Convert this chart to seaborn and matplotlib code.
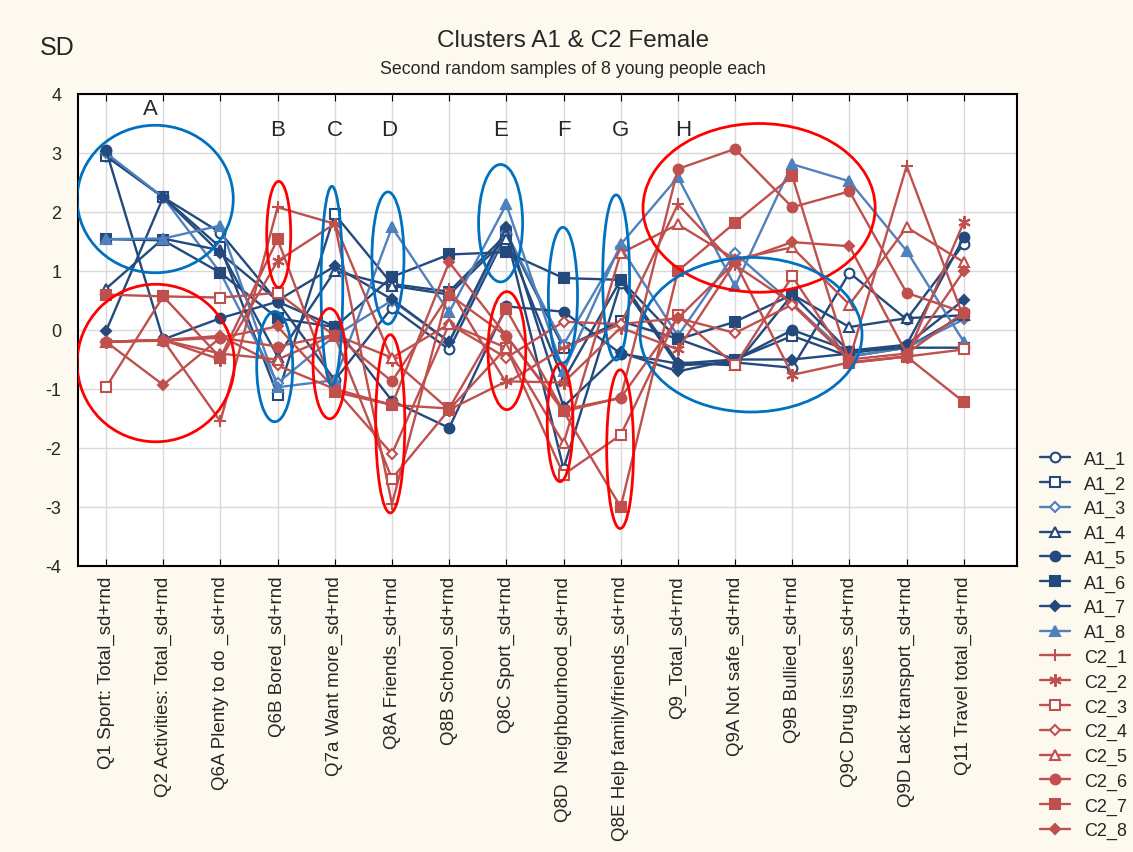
import numpy as np
import pandas as pd
import matplotlib
matplotlib.use("Agg")
from matplotlib import pyplot as plt
from matplotlib.patches import Ellipse
import seaborn as sns

# Categories on the x axis
categories = [
    "Q1 Sport: Total_sd+rnd", "Q2 Activities: Total_sd+rnd", "Q6A Plenty to do _sd+rnd",
    "Q6B Bored_sd+rnd", "Q7a Want more_sd+rnd", "Q8A Friends_sd+rnd", "Q8B School_sd+rnd",
    "Q8C Sport_sd+rnd", "Q8D  Neighbourhood_sd+rnd", "Q8E Help family/friends_sd+rnd",
    "Q9_Total_sd+rnd", "Q9A Not safe_sd+rnd", "Q9B Bullied_sd+rnd", "Q9C Drug issues_sd+rnd",
    "Q9D Lack transport_sd+rnd", "Q11 Travel total_sd+rnd",
]

# Cluster A1 (blue)
A1_1 = [2.95, 2.25, 1.65, 0.48, -0.85, 0.38, -0.33, 1.62, -2.35, 0.80, -0.60, -0.55, -0.64, 0.97, 0.18, 1.46]
A1_2 = [2.95, 2.25, 1.40, -1.10, 1.96, 0.78, 0.65, 1.62, -0.30, 0.15, -0.15, -0.50, -0.10, -0.45, -0.30, 0.25]
A1_3 = [3.00, 2.25, 0.97, -0.90, -0.10, 0.50, -0.20, 1.65, -0.25, 1.40, -0.10, 1.30, 0.45, -0.45, -0.30, 0.18]
A1_4 = [0.70, 1.55, 1.35, -0.45, 1.00, 0.75, 0.60, 1.55, -0.85, 0.85, -0.55, -0.60, 0.60, 0.05, 0.20, 0.25]
A1_5 = [3.05, -0.16, 0.20, 0.48, 0.06, -1.20, -1.66, 0.40, 0.31, -0.40, -0.57, -0.50, 0.00, -0.35, -0.25, 1.57]
A1_6 = [1.54, 1.52, 0.97, 0.20, 0.05, 0.90, 1.28, 1.32, 0.88, 0.85, -0.16, 0.14, 0.60, -0.37, -0.30, -0.30]
A1_7 = [-0.02, 2.25, 1.30, 0.50, 1.08, 0.52, -0.20, 1.74, -1.30, -0.38, -0.70, -0.50, -0.50, -0.40, -0.25, 0.51]
A1_8 = [1.54, 1.55, 1.77, -0.97, -0.85, 1.74, 0.30, 2.13, -0.70, 1.45, 2.59, 0.74, 2.81, 2.52, 1.34, -0.20]

# Cluster C2 (red)
C2_1 = [-0.20, -0.17, -1.55, 2.08, 1.80, -2.95, 0.70, -0.90, -0.30, 0.10, 2.13, 1.10, 0.45, -0.50, 2.78, 0.20]
C2_2 = [-0.20, -0.17, -0.50, 1.17, 1.80, -0.50, -1.35, -0.87, -0.89, 0.04, -0.33, 1.15, -0.76, -0.55, -0.45, 1.83]
C2_3 = [-0.97, 0.57, 0.55, 0.63, -0.10, -2.52, -1.35, -0.30, -2.45, -1.78, 0.25, -0.60, 0.91, -0.55, -0.45, -0.33]
C2_4 = [-0.20, -0.17, -0.10, -0.60, -1.00, -2.10, 0.10, -0.47, 0.14, 0.10, 0.20, -0.05, 0.43, -0.50, -0.40, 0.30]
C2_5 = [-0.20, -0.17, -0.40, -0.50, -0.08, -0.47, 0.10, -0.30, -1.92, 1.30, 1.79, 1.20, 1.40, 0.43, 1.74, 1.15]
C2_6 = [-0.20, -0.18, -0.13, -0.28, -0.08, -0.87, 0.60, -0.10, -1.35, -1.15, 2.73, 3.07, 2.08, 2.35, 0.63, 0.30]
C2_7 = [0.60, 0.57, -0.47, 1.54, -1.05, -1.27, -1.33, 0.35, -1.38, -3.00, 1.00, 1.82, 2.61, -0.56, -0.45, -1.22]
C2_8 = [-0.20, -0.93, -0.13, 0.06, -1.00, -1.27, 1.15, -0.10, -1.38, -1.15, 0.20, 1.15, 1.49, 1.42, -0.40, 1.00]

series = {
    "A1_1": A1_1, "A1_2": A1_2, "A1_3": A1_3, "A1_4": A1_4,
    "A1_5": A1_5, "A1_6": A1_6, "A1_7": A1_7, "A1_8": A1_8,
    "C2_1": C2_1, "C2_2": C2_2, "C2_3": C2_3, "C2_4": C2_4,
    "C2_5": C2_5, "C2_6": C2_6, "C2_7": C2_7, "C2_8": C2_8,
}

dark_blue = "#23497D"
light_blue = "#4F81BD"
red = "#C0504D"
asterisk = (6, 2, 0)
# name: (color, marker, filled)
styles = {
    "A1_1": (dark_blue, "o", False), "A1_2": (dark_blue, "s", False),
    "A1_3": (light_blue, "D", False), "A1_4": (dark_blue, "^", False),
    "A1_5": (dark_blue, "o", True), "A1_6": (dark_blue, "s", True),
    "A1_7": (dark_blue, "D", True), "A1_8": (light_blue, "^", True),
    "C2_1": (red, "+", True), "C2_2": (red, asterisk, True),
    "C2_3": (red, "s", False), "C2_4": (red, "D", False),
    "C2_5": (red, "^", False), "C2_6": (red, "o", True),
    "C2_7": (red, "s", True), "C2_8": (red, "D", True),
}

# long-form table
x = np.arange(len(categories))
df = pd.DataFrame({
    "series": np.repeat(list(series.keys()), len(categories)),
    "x": np.tile(x, len(series)),
    "value": np.concatenate(list(series.values())),
})

sns.set_style("white")
plt.rcParams["font.family"] = ["Liberation Sans", "DejaVu Sans"]

fig = plt.figure(figsize=(11.33, 8.53), dpi=100, facecolor="#FDF9EE")
ax = fig.add_axes([78 / 1133, 1 - 567 / 853, 939 / 1133, 472 / 853])
ax.set_facecolor("white")

handles = []
for name, (col, mk, filled) in styles.items():
    d = df[df["series"] == name]
    ms = 7 if mk not in ("D",) else 5.5
    if mk == "+" or mk == asterisk:
        ms = 9
    sns.lineplot(data=d, x="x", y="value", ax=ax, color=col, linewidth=1.7,
                 marker=mk, markersize=ms, markeredgewidth=1.5,
                 markerfacecolor=(col if filled else "white"), markeredgecolor=col,
                 errorbar=None, legend=False)
    handles.append(ax.get_lines()[-1])

# ellipses: (x centre, y centre, width, height, colour)
ellipses = [
    (0.86, 2.22, 2.73, 2.5, "#0070C0"), (0.87, -0.56, 2.75, 2.67, "#FF0000"),
    (2.95, -0.62, 0.63, 1.87, "#0070C0"), (3.02, 1.62, 0.42, 1.8, "#FF0000"),
    (3.95, 0.75, 0.38, 3.37, "#0070C0"), (3.91, -0.57, 0.58, 1.87, "#FF0000"),
    (4.93, 1.22, 0.56, 2.24, "#0070C0"), (4.97, -1.59, 0.51, 3.02, "#FF0000"),
    (6.90, 1.81, 0.77, 1.99, "#0070C0"), (7.01, -0.35, 0.66, 2.0, "#FF0000"),
    (7.99, 0.59, 0.51, 2.3, "#0070C0"), (7.94, -1.57, 0.45, 2.0, "#FF0000"),
    (8.92, 0.89, 0.47, 2.8, "#0070C0"), (8.99, -2.02, 0.47, 2.69, "#FF0000"),
    (11.42, 2.07, 4.06, 2.86, "#FF0000"), (11.28, -0.08, 3.88, 2.62, "#0070C0"),
]
for cx, cy, w, h, c in ellipses:
    ax.add_patch(Ellipse((cx, cy), w, h, fill=False, edgecolor=c, linewidth=2, zorder=5))

letters = [("A", 0.77, 3.75), ("B", 3.0, 3.4), ("C", 4.0, 3.4), ("D", 4.95, 3.4),
           ("E", 6.9, 3.4), ("F", 8.0, 3.4), ("G", 9.0, 3.4), ("H", 10.1, 3.4)]
for t, lx, ly in letters:
    ax.text(lx, ly, t, fontsize=16, ha="center", va="center")

ax.set_xlim(-0.49, 15.93)
ax.set_ylim(-4, 4)
ax.set_xticks(x)
ax.set_xticklabels(categories, rotation=90, fontsize=13.5)
ax.set_yticks(range(-4, 5))
ax.set_yticklabels([str(v) for v in range(-4, 5)], fontsize=13)
ax.grid(True, color="#D9D9D9", linewidth=1)
ax.set_axisbelow(True)
ax.tick_params(axis="x", which="both", direction="in", top=True, bottom=True, length=5, color="black", pad=7)
ax.tick_params(axis="y", length=0, pad=12)
for sp in ax.spines.values():
    sp.set_color("black")
    sp.set_linewidth(1.5)
ax.set_xlabel("")
ax.set_ylabel("")

fig.text(573 / 1133, 1 - 41 / 853, "Clusters A1 & C2 Female", fontsize=17.5, ha="center", va="center")
fig.text(573 / 1133, 1 - 70 / 853, "Second random samples of 8 young people each", fontsize=12.8, ha="center", va="center")
fig.text(57 / 1133, 1 - 48 / 853, "SD", fontsize=18, ha="center", va="center")

fig.legend(handles, list(styles.keys()), loc="upper left", bbox_to_anchor=(1036 / 1133, 1 - 448 / 853),
           frameon=False, fontsize=13, handlelength=1.7, handletextpad=0.75,
           labelspacing=0.42, borderaxespad=0, borderpad=0.2)

fig.savefig("out.png", dpi=100, facecolor=fig.get_facecolor())
